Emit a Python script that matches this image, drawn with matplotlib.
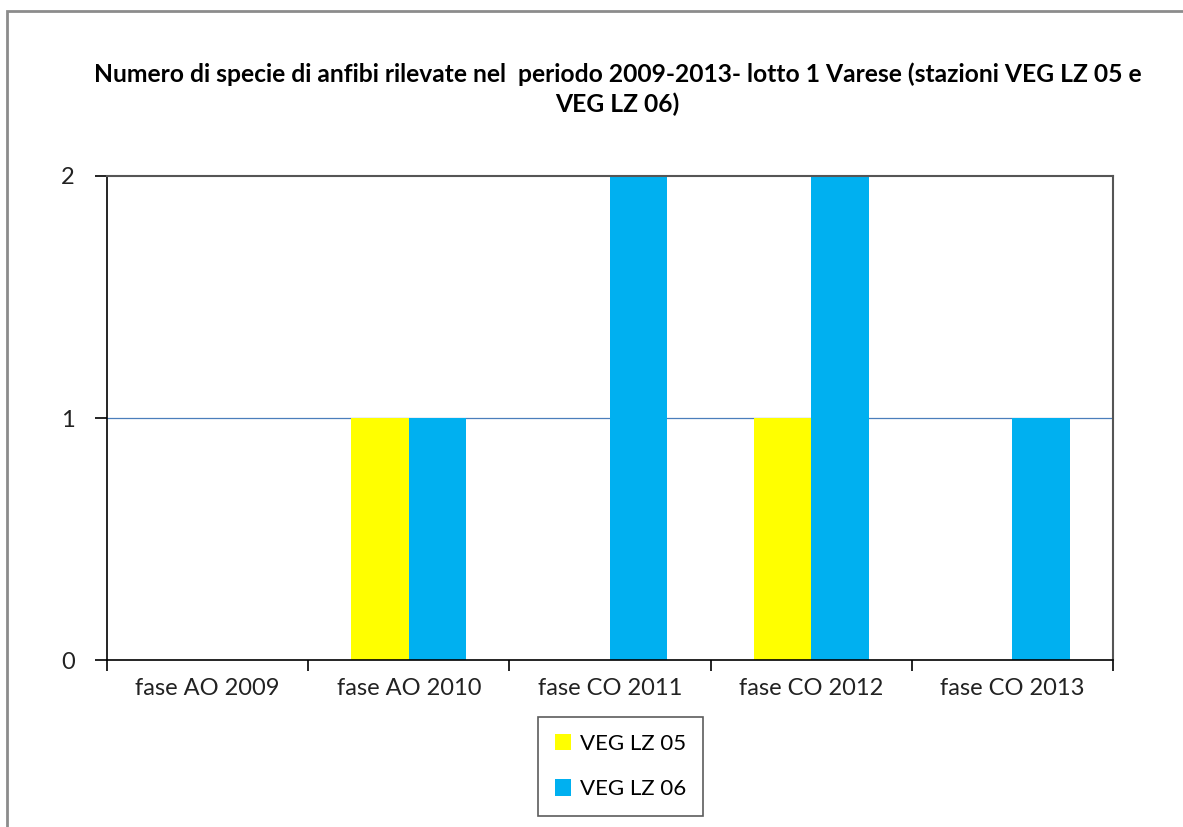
import numpy as np
import matplotlib.pyplot as plt
from matplotlib.patches import Rectangle

# data
categories = ['fase AO 2009', 'fase AO 2010', 'fase CO 2011', 'fase CO 2012', 'fase CO 2013']
veg_lz05 = [0, 1, 0, 1, 0]
veg_lz06 = [0, 1, 2, 2, 1]
series_names = ['VEG LZ 05', 'VEG LZ 06']
yticks = [0, 1, 2]
title = ('Numero di specie di anfibi rilevate nel  periodo 2009-2013- lotto 1 Varese (stazioni VEG LZ 05 e\n'
         'VEG LZ 06)')

plt.rcParams['font.family'] = ['Lato', 'DejaVu Sans']

fig = plt.figure(figsize=(11.83, 8.27), dpi=100)
ax = fig.add_axes([0.0904, 0.2019, 0.8504, 0.5853])

# outer chart border
fig.patches.append(Rectangle((7 / 1183, -0.05), 1.1, 1 - 11 / 827 + 0.05,
                             transform=fig.transFigure, fill=False,
                             edgecolor='#8c8c8c', linewidth=2))

x = np.arange(len(categories))
w = 1 / 3.5  # excel gap width 150%
ax.bar(x - w / 2, veg_lz05, width=w, color='#FFFF00', label=series_names[0], zorder=2)
ax.bar(x + w / 2, veg_lz06, width=w, color='#00B0F0', label=series_names[1], zorder=2)

ax.set_xlim(-0.5, len(categories) - 0.5)
ax.set_ylim(0, 2)
ax.set_yticks(yticks)
ax.set_yticklabels([str(v) for v in yticks], fontsize=17, color='#222222')
ax.set_xticks(x)
ax.set_xticklabels(categories, fontsize=17, color='#222222')
ax.tick_params(axis='x', length=0, pad=13)
ax.set_xticks(np.arange(len(categories) + 1) - 0.5, minor=True)
ax.tick_params(axis='x', which='minor', length=8, width=1.2, color='black')
ax.tick_params(axis='y', length=9, width=1.2, color='black', pad=14)

ax.axhline(1, color='#4A7EBB', linewidth=0.9, zorder=1)

for side in ['left', 'bottom']:
    ax.spines[side].set_color('black')
    ax.spines[side].set_linewidth(1.2)
for side in ['top', 'right']:
    ax.spines[side].set_color('#555555')
    ax.spines[side].set_linewidth(1.5)

fig.text(0.522, 0.892, title, ha='center', va='center', fontsize=17.7,
         fontweight='bold', linespacing=1.35)

leg = ax.legend(loc='upper left', bbox_to_anchor=(538 / 1183, 1 - 717 / 827),
                bbox_transform=fig.transFigure, fontsize=16, frameon=True,
                fancybox=False, edgecolor='#333333', handlelength=0.75,
                handleheight=0.75, labelspacing=1.15, borderpad=0.75,
                handletextpad=0.4, borderaxespad=0)
leg.get_frame().set_linewidth(1.2)

fig.savefig('out.png', dpi=100)
